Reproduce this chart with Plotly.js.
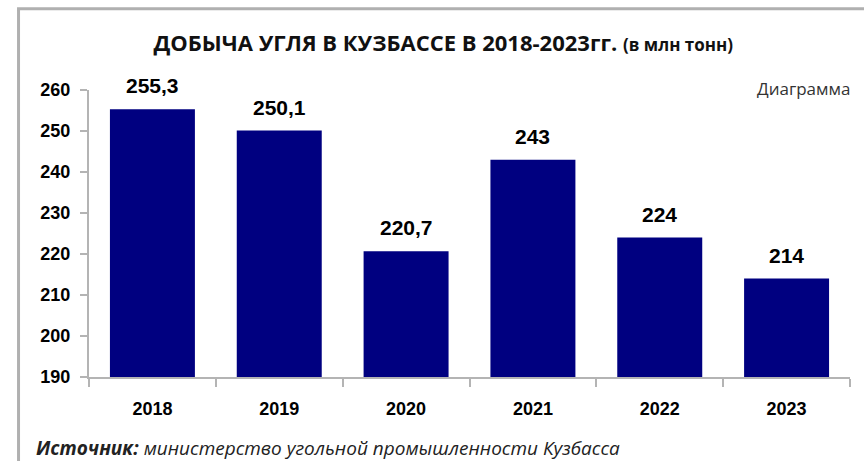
<!DOCTYPE html>
<html><head><meta charset="utf-8">
<script src="https://cdn.plot.ly/plotly-3.0.1.min.js"></script>
<style>html,body{margin:0;padding:0;background:#fff}#chart{width:864px;height:461px}</style>
</head><body><div id="chart"></div>
<script>
const years = ['2018','2019','2020','2021','2022','2023'];
const production = [255.3, 250.1, 220.7, 243, 224, 214];
const valueLabels = ['255,3','250,1','220,7','243','224','214'];
const yTicks = [190,200,210,220,230,240,250,260];

const trace = {
  type:'bar', x: years, y: production,
  marker:{color:'#000080'}, hoverinfo:'none', cliponaxis:false
};
const annotations = years.map((yr,i)=>({
  x: i, y: production[i], xref:'x', yref:'y', text: valueLabels[i],
  showarrow:false, yanchor:'bottom', yshift:10,
  font:{family:'Liberation Sans, Arial', size:21, color:'#000', weight:700}
}));
annotations.push({
  xref:'paper', yref:'paper', x:1.003, y:1, xanchor:'right', yanchor:'bottom', yshift:-12,
  text:'Диаграмма', showarrow:false,
  font:{family:'Open Sans', size:17, color:'#333'}
});
annotations.push({
  xref:'paper', yref:'paper', x:-0.072, y:0, xanchor:'left', yanchor:'top', yshift:-56,
  text:'<b><i>Источник:</i></b><i> министерство угольной промышленности Кузбасса</i>', showarrow:false,
  font:{family:'Open Sans', size:19, color:'#222'}
});
const layout = {
  width:864, height:461,
  margin:{l:89, r:14, t:90, b:84},
  paper_bgcolor:'#fff', plot_bgcolor:'#fff',
  bargap:0.33, showlegend:false,
  title:{text:'<b>ДОБЫЧА УГЛЯ В КУЗБАССЕ В 2018-2023гг. <span style="font-size:17px">(в млн тонн)</span></b>',
    x:0.513, xanchor:'center', y:0.905, yanchor:'middle',
    font:{family:'Open Sans', size:22, color:'#111'}},
  xaxis:{type:'category', showgrid:false, zeroline:false, showline:true, linecolor:'#b4b4b4', linewidth:2,
    ticks:'outside', tickson:'boundaries', ticklen:8, tickcolor:'#b4b4b4', tickwidth:2,
    ticklabelstandoff:14,
    tickfont:{family:'Liberation Sans, Arial', size:18, color:'#000', weight:700}},
  yaxis:{range:[190,260], tickvals:yTicks, showgrid:false, zeroline:false, showline:true,
    linecolor:'#b4b4b4', linewidth:2, ticks:'outside', ticklen:7, tickcolor:'#b4b4b4', tickwidth:2,
    ticklabelstandoff:6,
    tickfont:{family:'Liberation Sans, Arial', size:18, color:'#000', weight:700}},
  annotations: annotations,
  shapes:[{type:'rect', xref:'paper', yref:'paper', x0:-0.0926, x1:1.05, y0:-0.3, y1:1.283,
    line:{color:'#b0b0b0', width:3}, fillcolor:'rgba(0,0,0,0)'}]
};
Plotly.newPlot('chart',[trace],layout,{displayModeBar:false,staticPlot:true});
</script></body></html>
